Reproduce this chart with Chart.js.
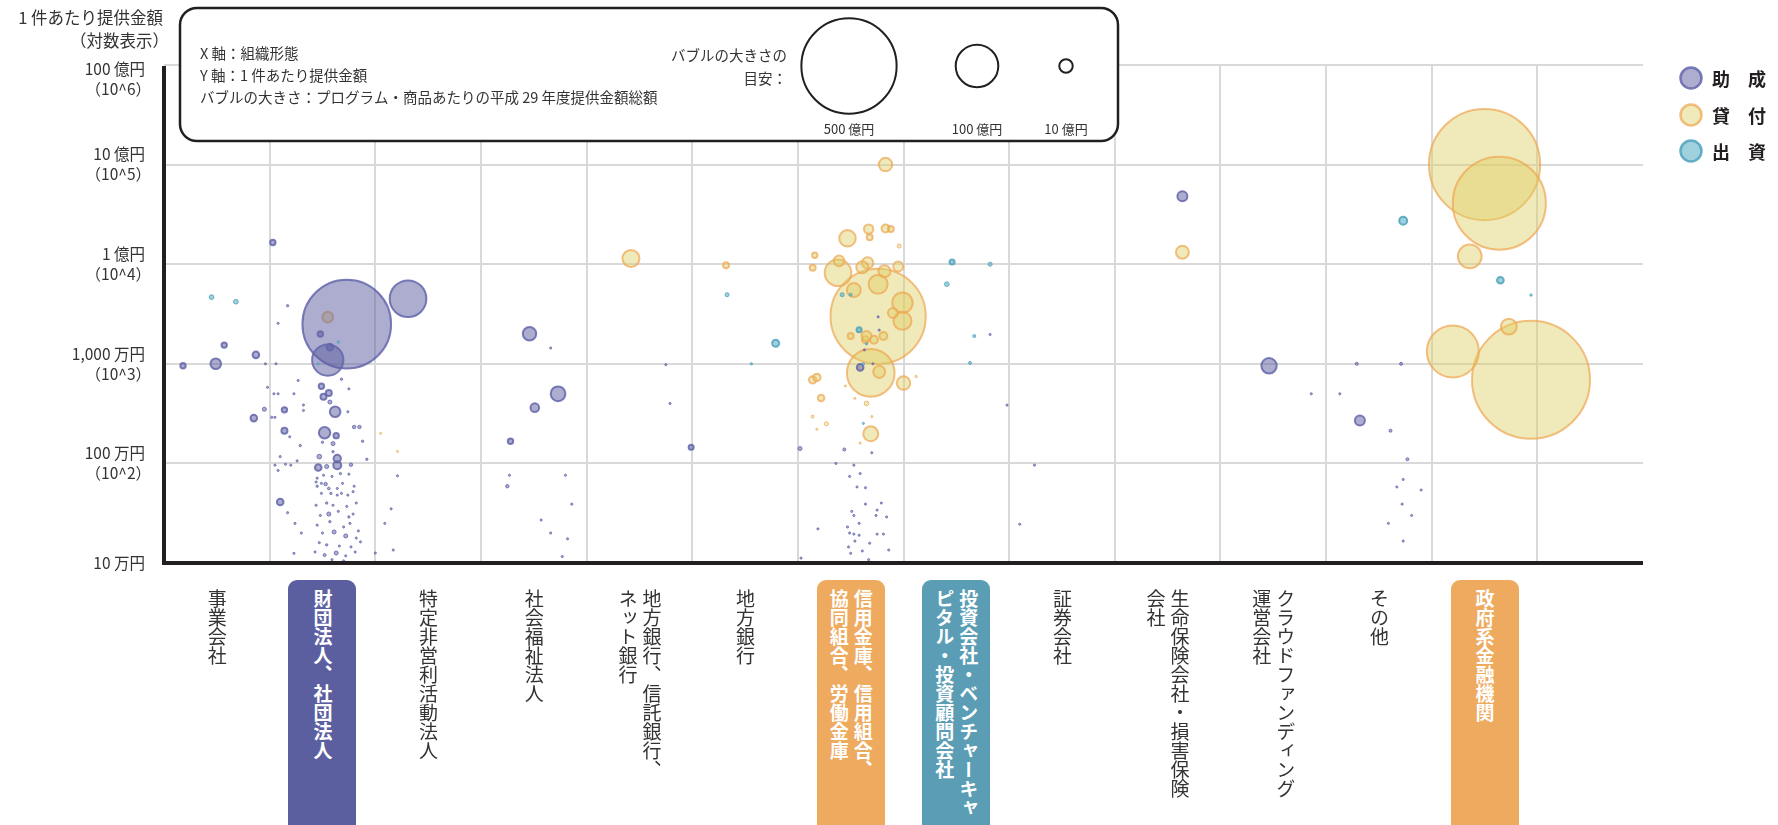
<!DOCTYPE html>
<html lang="ja">
<head>
<meta charset="UTF-8">
<title>組織形態別 1件あたり提供金額</title>
<script src="https://cdn.jsdelivr.net/npm/chart.js"></script>
<style>
  html, body { margin: 0; padding: 0; background: #fff; overflow: hidden; }
  #wrap { position: relative; width: 1778px; height: 825px; }
  #chart { display: block; }
  .cat {
    position: absolute; top: 580px; width: 68px; height: 300px;
    display: flex; justify-content: center; box-sizing: border-box;
    padding-top: 9px; border-radius: 9px 9px 0 0;
  }
  .cat span {
    writing-mode: vertical-rl; white-space: pre;
    font-family: "Noto Sans CJK JP", sans-serif; font-size: 19px; line-height: 24px;
    color: #333;
  }
  .cat.hl span { color: #fff; font-weight: bold; }
</style>
</head>
<body>
<div id="wrap"><canvas id="chart" width="1778" height="825"></canvas></div>
<script>
// X 軸：組織形態（列ごとに改行）
const categories = [
  ['事業会社'],
  ['財団法人、社団法人'],
  ['特定非営利活動法人'],
  ['社会福祉法人'],
  ['地方銀行、信託銀行、', 'ネット銀行'],
  ['地方銀行'],
  ['信用金庫、信用組合、', '協同組合、労働金庫'],
  ['投資会社・ベンチャーキャ', 'ピタル・投資顧問会社'],
  ['証券会社'],
  ['生命保険会社・損害保険', '会社'],
  ['クラウドファンディング', '運営会社'],
  ['その他'],
  ['政府系金融機関']
];
const categoryColors = [null, '#5c5f9f', null, null, null, null, '#eeaa5f', '#5a9db4', null, null, null, null, '#eeaa5f'];

const seriesNames = ['助成', '貸付', '出資'];

// [x 位置（組織形態の列 + ずらし）, 1件あたり提供金額（万円）, 平成29年度提供金額総額（億円）]
const grantPoints = [
  [0.18, 955, 1.6], [0.49, 1000, 6.2], [0.57, 1540, 1.6], [0.87, 1230, 2.4], [0.85, 285, 2.4],
  [0.95, 350, 0.9], [0.96, 1000, 0.25], [0.98, 580, 0.25],
  [1.03, 16500, 1.6], [1.73, 2500, 433], [1.55, 1090, 54], [1.48, 1990, 1.6], [1.57, 1470, 2.4],
  [1.17, 3830, 0.3], [1.08, 2550, 0.25], [1.06, 1000, 0.25], [1.14, 345, 1.6], [1.14, 213, 2],
  [1.68, 700, 0.3], [1.49, 595, 1.6], [1.56, 510, 2], [1.51, 467, 2], [1.57, 413, 0.9],
  [1.62, 330, 6.2], [1.52, 203, 7.2], [1.63, 190, 1.6], [1.80, 232, 0.64], [1.85, 232, 0.64],
  [1.60, 158, 0.9], [1.50, 163, 0.3], [1.88, 167, 0.3], [1.29, 151, 0.3], [1.47, 117, 1.2],
  [1.64, 112, 3], [1.64, 96, 3.5], [1.46, 91, 2.4], [1.54, 93, 0.9], [1.77, 97, 0.64],
  [1.92, 110, 0.3], [1.60, 131, 0.3], [1.74, 330, 0.25], [1.75, 560, 0.25], [1.27, 680, 0.25],
  [1.23, 500, 0.25], [1.04, 500, 0.25], [1.08, 500, 0.25], [1.32, 385, 0.25], [1.32, 340, 0.25],
  [1.02, 290, 0.25], [1.05, 290, 0.25], [1.19, 185, 0.25], [1.10, 117, 0.25], [1.05, 96, 0.25],
  [1.15, 98, 0.25], [1.20, 96, 0.25], [1.08, 85, 0.25], [1.26, 106, 0.25], [1.53, 62, 0.64],
  [1.51, 76, 0.25], [1.59, 74, 0.25], [1.67, 79, 0.3], [1.75, 78, 0.25], [1.44, 65, 0.25],
  [1.45, 59, 0.3], [1.49, 63, 0.25], [1.56, 56, 0.4], [1.64, 56, 0.25], [1.69, 63, 0.25],
  [1.80, 59, 0.25], [1.79, 52, 0.25], [1.49, 50, 0.25], [1.58, 50, 0.3], [1.64, 48, 0.25],
  [1.68, 50, 0.25], [1.74, 48, 0.25], [1.45, 71, 0.25],
  [1.10, 41, 2.4], [1.17, 32, 0.25], [1.24, 25, 0.25], [1.30, 20, 0.25], [1.23, 12.5, 0.25],
  [1.44, 38, 0.25], [1.54, 40, 0.3], [1.60, 38, 0.25], [1.73, 37, 0.25], [1.82, 40, 0.25],
  [1.48, 30, 0.25], [1.56, 31, 0.9], [1.65, 33, 0.25], [1.75, 29, 0.3], [1.79, 31, 0.25],
  [1.45, 24, 0.25], [1.57, 26, 0.3], [1.70, 23, 0.25], [1.76, 25, 0.25], [1.84, 21, 0.25],
  [1.50, 20, 0.25], [1.61, 20.5, 0.9], [1.72, 18.7, 0.9], [1.82, 17.8, 0.25], [1.47, 16, 0.25],
  [1.54, 15.2, 0.3], [1.66, 14.8, 0.25], [1.77, 14.5, 0.25], [1.86, 16.3, 0.25], [1.43, 12.9, 0.25],
  [1.52, 12, 0.5], [1.63, 12.6, 0.9], [1.72, 11.8, 0.25], [1.81, 12.9, 0.25], [1.59, 10.8, 0.25],
  [1.70, 10.5, 0.25],
  [2.31, 4500, 74], [2.21, 75, 0.25], [2.15, 35, 0.25], [2.09, 25, 0.25], [2.17, 13.5, 0.25],
  [2.00, 12.6, 0.25],
  [3.46, 2000, 9.9], [3.51, 363, 4.1], [3.73, 500, 12], [3.28, 167, 1.6], [3.27, 76, 0.25],
  [3.25, 59, 0.64], [3.66, 1440, 0.25], [3.80, 76, 0.25], [3.86, 39, 0.25], [3.57, 27, 0.25],
  [3.66, 20, 0.25], [3.82, 17.5, 0.25], [3.77, 11.6, 0.25],
  [4.99, 145, 1.4], [4.75, 980, 0.25], [4.79, 400, 0.25],
  [6.02, 141, 0.9], [6.59, 920, 2.4], [6.76, 2960, 0.25], [6.77, 2180, 0.25], [6.63, 1380, 0.25],
  [6.71, 1000, 0.25], [6.44, 138, 0.5], [6.36, 100, 0.25], [6.49, 74, 0.25], [6.53, 96, 0.25],
  [6.56, 58, 0.25], [6.64, 57, 0.25], [6.70, 128, 0.25], [6.59, 79, 0.25],
  [6.64, 39, 0.25], [6.79, 40, 0.25], [6.51, 33, 0.25], [6.53, 30, 0.25], [6.75, 34, 0.25],
  [6.74, 30, 0.25], [6.84, 29, 0.25], [6.19, 22, 0.25], [6.47, 23, 0.25], [6.58, 25, 0.25],
  [6.49, 20, 0.25], [6.53, 19.5, 0.25], [6.58, 19, 0.25], [6.75, 19.5, 0.25], [6.81, 19.5, 0.25],
  [6.54, 16.6, 0.25], [6.68, 15.8, 0.25], [6.48, 14.5, 0.25], [6.61, 13.2, 0.25], [6.50, 12.5, 0.25],
  [6.86, 13.5, 0.25], [6.67, 10.8, 0.25], [6.03, 11.2, 0.25],
  [7.82, 1970, 0.25], [7.98, 385, 0.25], [8.10, 24.5, 0.25],
  [8.24, 96, 0.25],
  [9.64, 48000, 5.5],
  [10.46, 955, 13], [10.86, 500, 0.25],
  [11.13, 500, 0.25], [11.29, 1000, 0.5], [11.71, 1000, 0.5], [11.32, 270, 5.5], [11.61, 213, 0.5],
  [11.77, 110, 0.5], [11.73, 69, 0.25], [11.67, 58, 0.25], [11.72, 39, 0.25], [11.81, 30, 0.25],
  [11.59, 25, 0.25], [11.90, 54, 0.25], [11.73, 16.6, 0.25]
];

const loanPoints = [
  [1.55, 2940, 6.2], [2.05, 200, 0.25], [2.21, 132, 0.25],
  [4.42, 11400, 16],
  [5.32, 9760, 2],
  [6.76, 3000, 500], [6.69, 810, 125],
  [6.83, 100000, 10], [6.47, 18200, 15], [6.67, 22500, 4.9], [6.68, 18600, 2], [6.83, 22800, 3.5],
  [6.88, 22500, 2], [6.96, 15200, 0.9], [6.16, 12300, 1.6], [6.14, 9200, 2], [6.38, 8200, 39],
  [6.39, 10800, 6.2], [6.66, 10300, 7.2], [6.61, 9300, 8], [6.76, 6300, 20], [6.82, 8500, 8],
  [6.95, 9500, 5.5], [6.99, 4100, 23], [6.99, 2700, 18], [6.90, 3240, 5.5], [6.81, 1900, 3.5],
  [6.64, 1740, 2.7], [6.72, 1740, 3.5], [6.77, 830, 8], [7.00, 640, 10], [6.69, 198, 12.4],
  [6.14, 690, 3], [6.18, 730, 3], [6.22, 454, 2.4], [6.14, 295, 0.5], [6.27, 250, 0.9],
  [6.18, 220, 0.25], [6.45, 600, 0.25], [6.54, 450, 0.25], [6.65, 400, 1.2], [6.59, 160, 0.25],
  [6.70, 295, 0.25], [6.53, 5500, 10.8], [6.65, 1900, 5.5], [6.50, 1900, 2], [7.12, 745, 0.3],
  [9.64, 13200, 9.3],
  [12.94, 690, 767], [12.50, 100000, 681], [12.64, 41000, 477], [12.20, 1330, 149],
  [12.36, 12000, 31], [12.73, 2360, 13.8]
];

const investPoints = [
  [0.45, 4670, 1.2], [0.68, 4200, 1.2], [1.65, 1650, 0.3], [1.46, 1000, 0.25],
  [5.33, 4940, 0.9], [5.79, 1610, 2.7], [5.56, 1000, 0.3],
  [6.42, 4940, 0.9], [6.50, 4940, 0.5], [6.58, 2200, 1.4], [6.65, 1590, 0.3], [6.62, 1000, 0.3],
  [6.62, 252, 0.25],
  [7.46, 10500, 1.4], [7.41, 6300, 1.2], [7.82, 10000, 0.9], [7.67, 1900, 0.5], [7.63, 1020, 0.5],
  [11.73, 27300, 3.5],
  [12.65, 6900, 2.5], [12.94, 4900, 0.3]
];

// Y 軸目盛（万円）
const yTickValues = [1000000, 100000, 10000, 1000, 100, 10];
const yTickMain = ['100 億円', '10 億円', '1 億円', '1,000 万円', '100 万円', '10 万円'];
const yTickSub = ['（10^6）', '（10^5）', '（10^4）', '（10^3）', '（10^2）', ''];

// バブルの大きさの目安（億円）
const guideAmounts = [500, 100, 10];
const guideLabels = ['500 億円', '100 億円', '10 億円'];

const FONT = '"Noto Sans CJK JP", "Noto Sans", sans-serif';
const R_PER_SQRT = 2.13;   // 半径 = 2.13 * sqrt(億円)
const radius = a => R_PER_SQRT * Math.sqrt(a);

const fills = ['rgba(92, 94, 160, 0.5)', 'rgba(222, 206, 100, 0.45)', 'rgba(80, 170, 195, 0.55)'];
const borders = ['rgba(100, 102, 172, 0.85)', 'rgba(238, 165, 80, 0.7)', 'rgba(80, 162, 188, 0.85)'];

function toData(points) {
  return points.map(p => ({ x: p[0], y: p[1], r: radius(p[2]) }));
}
function makeSet(i, points, order) {
  return {
    label: seriesNames[i],
    data: toData(points),
    backgroundColor: fills[i],
    borderColor: borders[i],
    borderWidth: c => (c.raw && c.raw.r < 2.5) ? 1 : 2,
    hoverRadius: 0,
    order: order
  };
}

const overlay = {
  id: 'overlay',
  afterDraw(chart) {
    const { ctx, chartArea: a, scales: { y } } = chart;
    ctx.save();

    // 軸線
    ctx.strokeStyle = '#231f20';
    ctx.lineWidth = 4;
    ctx.beginPath();
    ctx.moveTo(a.left, a.top + 1);
    ctx.lineTo(a.left, a.bottom + 2);
    ctx.moveTo(a.left - 2, a.bottom);
    ctx.lineTo(a.right, a.bottom);
    ctx.stroke();

    // Y 軸目盛ラベル
    ctx.fillStyle = '#333';
    ctx.textAlign = 'right';
    ctx.textBaseline = 'middle';
    ctx.font = '15.5px ' + FONT;
    yTickValues.forEach((v, i) => {
      const py = y.getPixelForValue(v);
      if (!yTickSub[i]) {
        ctx.fillText(yTickMain[i], 145, py);
        return;
      }
      const c = i === 0 ? py + 14 : py;
      ctx.fillText(yTickMain[i], 145, c - 10);
      ctx.fillText(yTickSub[i], 151, c + 10);
    });

    // Y 軸タイトル
    ctx.font = '16.5px ' + FONT;
    ctx.fillText('1 件あたり提供金額', 163, 18);
    ctx.fillText('（対数表示）', 169, 41);

    // 説明ボックス
    ctx.fillStyle = '#fff';
    ctx.strokeStyle = '#231f20';
    ctx.lineWidth = 2.5;
    ctx.beginPath();
    ctx.roundRect(180, 8, 938, 133, 17);
    ctx.fill();
    ctx.stroke();

    ctx.fillStyle = '#333';
    ctx.textAlign = 'left';
    ctx.font = '14.5px ' + FONT;
    ctx.fillText('X 軸：組織形態', 200, 53);
    ctx.fillText('Y 軸：1 件あたり提供金額', 200, 75);
    ctx.fillText('バブルの大きさ：プログラム・商品あたりの平成 29 年度提供金額総額', 200, 97);
    ctx.textAlign = 'right';
    ctx.fillText('バブルの大きさの', 787, 55);
    ctx.fillText('目安：', 787, 78);

    const guideX = [849, 977, 1066];
    ctx.lineWidth = 2;
    guideAmounts.forEach((amt, i) => {
      ctx.beginPath();
      ctx.arc(guideX[i], 66, radius(amt), 0, Math.PI * 2);
      ctx.stroke();
    });
    ctx.textAlign = 'center';
    ctx.font = '13px ' + FONT;
    guideLabels.forEach((t, i) => ctx.fillText(t, guideX[i], 129));

    // 凡例（右）
    const legendY = [78, 115, 151];
    ctx.textAlign = 'left';
    ctx.font = 'bold 18px ' + FONT;
    seriesNames.forEach((name, i) => {
      ctx.beginPath();
      ctx.arc(1691, legendY[i], 10.5, 0, Math.PI * 2);
      ctx.fillStyle = '#fff';
      ctx.fill();
      ctx.fillStyle = fills[i];
      ctx.fill();
      ctx.strokeStyle = borders[i];
      ctx.lineWidth = 2.5;
      ctx.stroke();
      ctx.fillStyle = '#231f20';
      ctx.fillText(name.split('').join('　'), 1712, legendY[i] + 1);
    });

    ctx.restore();
  }
};

const chart = new Chart(document.getElementById('chart'), {
  type: 'bubble',
  data: {
    datasets: [
      makeSet(0, grantPoints, 1),
      makeSet(1, loanPoints, 2),
      makeSet(2, investPoints, 0)
    ]
  },
  options: {
    responsive: false,
    animation: false,
    events: [],
    layout: { padding: { left: 164, right: 135, top: 65, bottom: 262 } },
    plugins: { legend: { display: false }, tooltip: { enabled: false } },
    scales: {
      x: {
        type: 'linear', min: 0, max: 14,
        afterBuildTicks: s => { s.ticks = categories.map((c, i) => ({ value: i + 1 })); },
        ticks: { display: false },
        border: { display: false },
        grid: { color: '#d9d9d9', lineWidth: 2, drawTicks: false }
      },
      y: {
        type: 'logarithmic', min: 10, max: 1000000,
        afterBuildTicks: s => { s.ticks = yTickValues.map(v => ({ value: v })); },
        ticks: { display: false },
        border: { display: false },
        grid: { color: '#d9d9d9', lineWidth: 2, drawTicks: false }
      }
    }
  },
  plugins: [overlay]
});

// X 軸ラベル（縦書き）
const wrap = document.getElementById('wrap');
const xs = chart.scales.x;
categories.forEach((lines, i) => {
  const div = document.createElement('div');
  div.className = 'cat' + (categoryColors[i] ? ' hl' : '');
  if (categoryColors[i]) div.style.background = categoryColors[i];
  div.style.left = (xs.getPixelForValue(i + 0.5) - 34) + 'px';
  const span = document.createElement('span');
  span.textContent = lines.join('\n');
  div.appendChild(span);
  wrap.appendChild(div);
});
</script>
</body>
</html>
